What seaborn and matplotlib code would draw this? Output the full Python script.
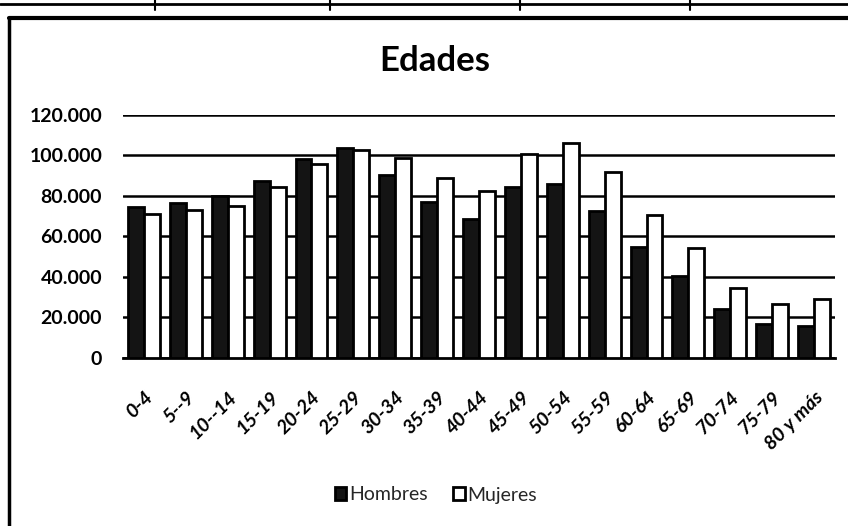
import matplotlib
matplotlib.use("Agg")
import matplotlib.pyplot as plt
from matplotlib.lines import Line2D
from matplotlib.ticker import FuncFormatter
import seaborn as sns
import pandas as pd

categories = ["0-4", "5--9", "10--14", "15-19", "20-24", "25-29", "30-34", "35-39",
              "40-44", "45-49", "50-54", "55-59", "60-64", "65-69", "70-74", "75-79", "80 y más"]
hombres = [74500, 76300, 80000, 87500, 98400, 103500, 90300, 76800,
           68600, 84200, 86100, 72400, 54700, 40300, 24400, 17000, 15700]
mujeres = [71000, 73000, 75000, 84500, 95700, 102500, 99000, 88800,
           82600, 100900, 106300, 92000, 70600, 54200, 34500, 26900, 29300]
series = ["Hombres", "Mujeres"]
yticks = [0, 20000, 40000, 60000, 80000, 100000, 120000]

df = pd.DataFrame({
    "Edad": categories * 2,
    "Serie": [series[0]] * len(categories) + [series[1]] * len(categories),
    "Valor": hombres + mujeres,
})

sns.set_theme(style="white")
plt.rcParams['font.family'] = ['Lato', 'DejaVu Sans']

fig = plt.figure(figsize=(8.48, 5.26), dpi=100)
ax = fig.add_axes([123 / 848, 0.3194, 712 / 848, 0.4620])

sns.barplot(data=df, x="Edad", y="Valor", hue="Serie", order=categories,
            hue_order=series, palette={"Hombres": "#141414", "Mujeres": "white"},
            width=0.76, edgecolor="black", linewidth=2.0, ax=ax, legend=True, zorder=3)

ax.set_ylim(0, 120000)
ax.set_yticks(yticks)
ax.yaxis.set_major_formatter(FuncFormatter(lambda v, p: f"{int(v):,}".replace(",", ".")))
ax.grid(axis="y", color="black", linewidth=1.8, zorder=0)
ax.set_axisbelow(True)
for s in ["top", "right", "left"]:
    ax.spines[s].set_visible(False)
ax.spines["bottom"].set_color("black")
ax.spines["bottom"].set_linewidth(2)
ax.set_xlabel("")
ax.set_ylabel("")
ax.tick_params(axis="y", labelsize=14, pad=15, length=0, labelcolor="black")
ax.tick_params(axis="x", labelsize=14, length=0, pad=22, labelcolor="black")
for lab in ax.get_yticklabels():
    lab.set_fontweight("bold")
plt.setp(ax.get_xticklabels(), rotation=45, ha="right", rotation_mode="anchor",
         fontweight="bold", fontstyle="italic")
ax.set_xlim(-0.5, len(categories) - 0.5)

fig.text(435 / 848, 1 - 61 / 526, "Edades", ha="center", va="center", fontsize=25,
         fontweight="bold", color="black")

handles, labels = ax.get_legend_handles_labels()
ax.get_legend().remove()
leg = fig.legend(handles, labels, loc="center", bbox_to_anchor=(436 / 848, 1 - 495 / 526),
                 ncol=2, frameon=False, fontsize=14, handlelength=0.6, handleheight=0.6,
                 handletextpad=0.15, columnspacing=1.3)

# outer chart border and spreadsheet lines
fig.add_artist(Line2D([9 / 848, 9 / 848], [0, 1 - 18 / 526], color="black", lw=2.5,
                      transform=fig.transFigure))
fig.add_artist(Line2D([9 / 848, 1], [1 - 18 / 526, 1 - 18 / 526], color="black", lw=3,
                      transform=fig.transFigure))
fig.add_artist(Line2D([0, 1], [1 - 4 / 526, 1 - 4 / 526], color="black", lw=2,
                      transform=fig.transFigure))
for xp in [155, 330, 520, 690]:
    fig.add_artist(Line2D([xp / 848, xp / 848], [1 - 10 / 526, 1], color="black", lw=1.5,
                          transform=fig.transFigure))

fig.savefig("out.png", dpi=100, facecolor="white")
